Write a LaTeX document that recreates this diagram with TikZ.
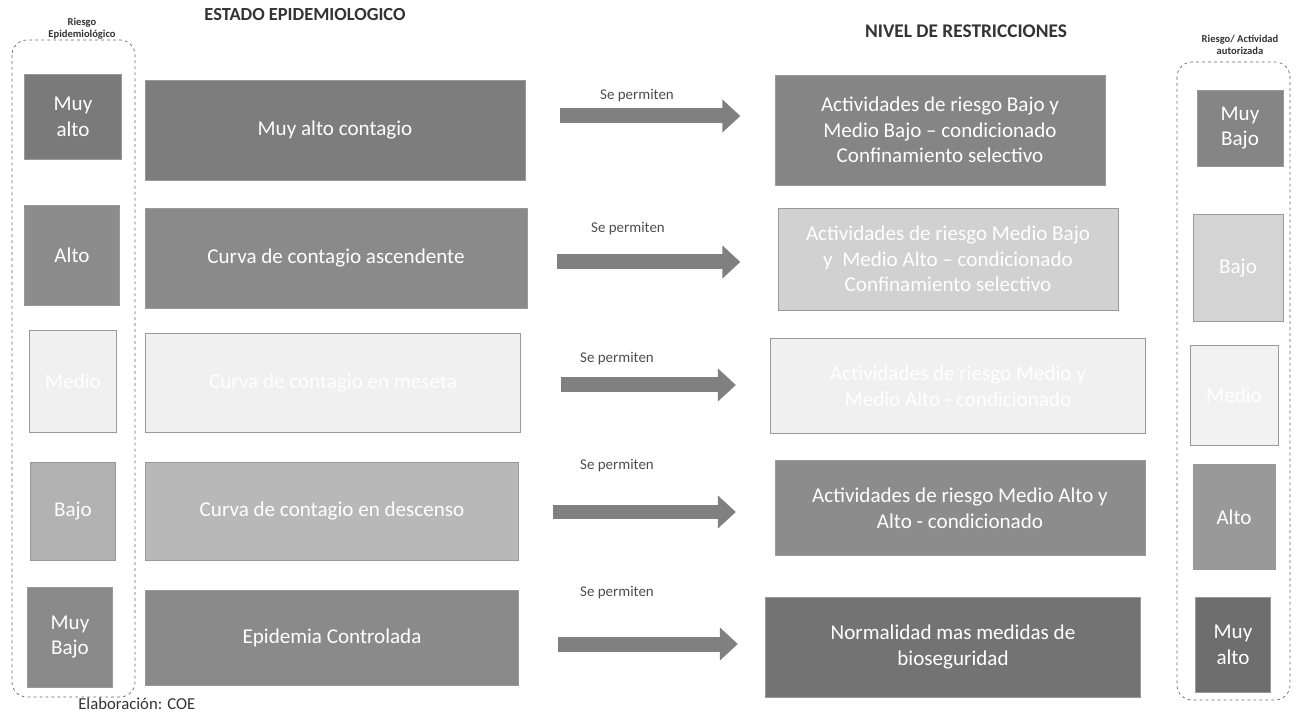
\documentclass[tikz,border=0pt]{standalone}
\usepackage{fontspec}
\setmainfont{Carlito}
\usetikzlibrary{arrows.meta,calc}

\tikzset{
  box/.style 2 args={draw=black!40, text=white, align=center, inner sep=1pt,
    minimum width=#1*0.02cm, minimum height=#2*0.02cm,
    font=\fontsize{12}{14.6}\selectfont},
  frame/.style={draw=black!60, dash pattern=on 1.6pt off 1.8pt, rounded corners=0.3cm},
  permit/.style={draw=black!50, line width=0.3cm, -{Triangle[length=0.36cm,width=0.64cm]}},
  permitlabel/.style={text=black!70, font=\fontsize{8.5}{10}\selectfont},
  head/.style={text=black!80, font=\bfseries\fontsize{10.5}{12}\selectfont},
  smallhead/.style={text=black!80, align=center, font=\bfseries\fontsize{6}{7}\selectfont}
}

\begin{document}
\begin{tikzpicture}[x=0.02cm, y=-0.02cm]
  \useasboundingbox (0,0) rectangle (1298,712);
  % Headers
  \node[smallhead] (hrisk) at (82,29) {Riesgo\\Epidemiológico};
  \node[head] (hstate) at (305,15) {ESTADO EPIDEMIOLOGICO};
  \node[head, font=\bfseries\fontsize{11}{13}\selectfont] (hlevel) at (966,31) {NIVEL DE RESTRICCIONES};
  \node[smallhead] (hact) at (1240,45) {Riesgo/ Actividad\\autorizada};
  % Frames
  \draw[frame] (12,40) rectangle (135,697);
  \draw[frame] (1177,62) rectangle (1290,700);
  % Row 1
  \node[box={97}{85}, fill=black!52] (r1) at (73,117) {Muy\\alto};
  \node[box={380}{100}, fill=black!51] (e1) at (335,130) {Muy alto contagio};
  \node[box={330}{110}, fill=black!48] (n1) at (940,130) {Actividades de riesgo Bajo y\\Medio Bajo -- condicionado\\Confinamiento selectivo};
  \node[box={86}{76}, fill=black!48] (a1) at (1240,128) {Muy\\Bajo};
  \draw[permit] ($(e1.east)+(35,-14)$) -- ++(180,0);
  \node[permitlabel] (p1) at (637,96) {Se permiten};
  % Row 2
  \node[box={95}{100}, fill=black!45] (r2) at (72,255) {Alto};
  \node[box={382}{100}, fill=black!46] (e2) at (336,258) {Curva de contagio ascendente};
  \node[box={340}{102}, fill=black!18] (n2) at (948,259) {Actividades de riesgo Medio Bajo\\y\ \ Medio Alto -- condicionado\\Confinamiento selectivo};
  \node[box={90}{107}, fill=black!17] (a2) at (1238,268) {Bajo};
  \draw[permit] ($(e2.east)+(30,4)$) -- ++(183,0);
  \node[permitlabel] (p2) at (628,229) {Se permiten};
  % Row 3
  \node[box={87}{102}, fill=black!6] (r3) at (73,381) {Medio};
  \node[box={375}{99}, fill=black!6] (e3) at (333,383) {Curva de contagio en meseta};
  \node[box={375}{95}, fill=black!6] (n3) at (958,386) {Actividades de riesgo Medio y\\Medio Alto - condicionado};
  \node[box={88}{100}, fill=black!5] (a3) at (1234,395) {Medio};
  \draw[permit] ($(e3.east)+(40,2)$) -- ++(175,0);
  \node[permitlabel] (p3) at (617,359) {Se permiten};
  % Row 4
  \node[box={85}{98}, fill=black!30] (r4) at (73,511) {Bajo};
  \node[box={373}{98}, fill=black!28] (e4) at (332,511) {Curva de contagio en descenso};
  \node[box={370}{95}, fill=black!45] (n4) at (960,508) {Actividades de riesgo Medio Alto y\\Alto - condicionado};
  \node[box={82}{105}, fill=black!40] (a4) at (1234,517) {Alto};
  \draw[permit] ($(e4.east)+(34,1)$) -- ++(183,0);
  \node[permitlabel] (p4) at (617,466) {Se permiten};
  % Row 5
  \node[box={85}{100}, fill=black!46] (r5) at (70,637) {Muy\\Bajo};
  \node[box={373}{95}, fill=black!46] (e5) at (332,638) {Epidemia Controlada};
  \node[box={375}{100}, fill=black!55] (n5) at (953,647) {Normalidad mas medidas de\\bioseguridad};
  \node[box={75}{95}, fill=black!57] (a5) at (1233,645) {Muy\\alto};
  \draw[permit] ($(e5.east)+(39,6)$) -- ++(180,0);
  \node[permitlabel] (p5) at (617,593) {Se permiten};
  % Source
  \node[anchor=south west, text=black!80, inner sep=0pt, font=\fontsize{9.5}{11}\selectfont] (src) at (78,710) {Elaboración: COE};
\end{tikzpicture}
\end{document}
